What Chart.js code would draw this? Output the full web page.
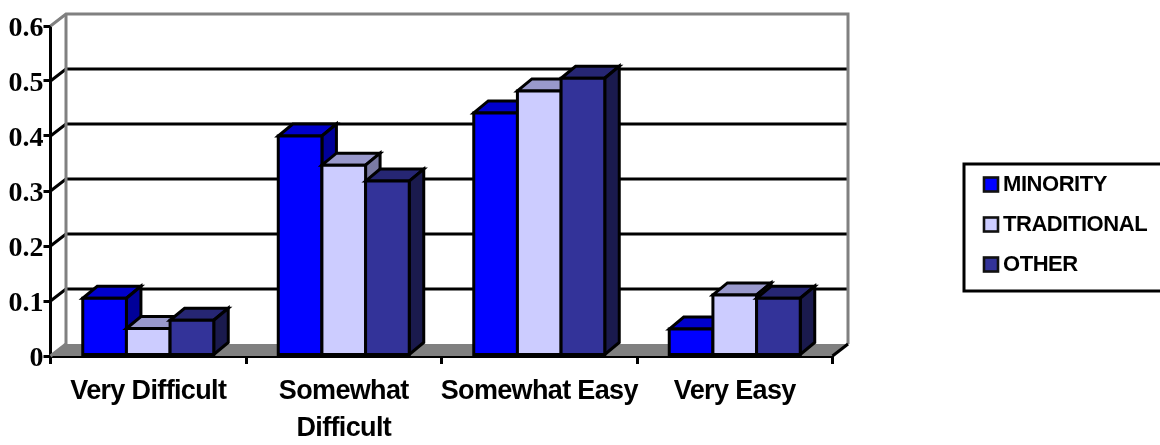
<!DOCTYPE html>
<html>
<head>
<meta charset="utf-8">
<style>
  html, body { margin: 0; padding: 0; background: #fff; }
  canvas { display: block; }
</style>
<script src="https://cdn.jsdelivr.net/npm/chart.js@4/dist/chart.umd.min.js"></script>
</head>
<body>
<canvas id="chart" width="1160" height="445"></canvas>
<script>
const categories = ["Very Difficult", ["Somewhat", "Difficult"], "Somewhat Easy", "Very Easy"];
const minority = [0.105, 0.40, 0.442, 0.049];
const traditional = [0.05, 0.347, 0.482, 0.111];
const other = [0.065, 0.318, 0.505, 0.105];
const axisTicks = [0, 0.1, 0.2, 0.3, 0.4, 0.5, 0.6];

const seriesNames = ["MINORITY", "TRADITIONAL", "OTHER"];
const faceColors = ["#0000ff", "#ccccff", "#333399"];
const topColors = ["#0000cc", "#9999cc", "#262673"];
const sideColors = ["#000099", "#7a7aa3", "#1a1a4d"];

// Perspective offset of the back of the plot box and of each bar
const WALL_DX = 15.5, WALL_DY = 12;
const BAR_DX = 14.5, BAR_DY = 12;
const LINE = 3;

function poly(ctx, pts, fill, stroke, lw) {
  ctx.beginPath();
  pts.forEach((p, i) => i ? ctx.lineTo(p[0], p[1]) : ctx.moveTo(p[0], p[1]));
  ctx.closePath();
  if (fill) { ctx.fillStyle = fill; ctx.fill(); }
  if (stroke) { ctx.strokeStyle = stroke; ctx.lineWidth = lw; ctx.lineJoin = "miter"; ctx.stroke(); }
}

function segments(ctx, pts, color, lw) {
  ctx.beginPath();
  pts.forEach((p, i) => i ? ctx.lineTo(p[0], p[1]) : ctx.moveTo(p[0], p[1]));
  ctx.strokeStyle = color; ctx.lineWidth = lw; ctx.lineCap = "butt"; ctx.stroke();
}

// Back walls, floor and grid lines of the 3D plot box
const plotBox = {
  id: "plotBox",
  beforeDatasetsDraw(chart) {
    const { ctx, chartArea: a, scales: { y } } = chart;
    const bottom = y.getPixelForValue(0), top = y.getPixelForValue(0.6);
    ctx.save();
    poly(ctx, [[a.left, bottom], [a.left + WALL_DX, bottom - WALL_DY],
               [a.right + WALL_DX, bottom - WALL_DY], [a.right, bottom]], "#808080");
    axisTicks.forEach(v => {
      if (v === 0 || v === 0.6) return;
      const py = y.getPixelForValue(v);
      segments(ctx, [[a.left, py], [a.left + WALL_DX, py - WALL_DY], [a.right + WALL_DX, py - WALL_DY]], "#000", LINE);
    });
    segments(ctx, [[a.left, top], [a.left + WALL_DX, top - WALL_DY], [a.right + WALL_DX, top - WALL_DY],
                   [a.right + WALL_DX, bottom - WALL_DY]], "#808080", LINE);
    segments(ctx, [[a.left + WALL_DX, top - WALL_DY], [a.left + WALL_DX, bottom - WALL_DY]], "#808080", LINE);
    segments(ctx, [[a.left, bottom], [a.left + WALL_DX, bottom - WALL_DY]], "#808080", LINE);
    segments(ctx, [[a.right, bottom], [a.right + WALL_DX, bottom - WALL_DY]], "#000", LINE);
    ctx.restore();
  }
};

// Draws each bar with its top and side faces, left series first so later ones overlap.
// Outlines are centred on the edges so touching bars share one line.
const extrudedBars = {
  id: "extrudedBars",
  beforeDatasetsDraw(chart) {
    const ctx = chart.ctx;
    ctx.save();
    chart.data.datasets.forEach((ds, i) => {
      chart.getDatasetMeta(i).data.forEach(bar => {
        const half = bar.width / 2;
        const l = bar.x - half, r = bar.x + half, t = bar.y, b = bar.base;
        poly(ctx, [[l, t], [l + BAR_DX, t - BAR_DY], [r + BAR_DX, t - BAR_DY], [r, t]], topColors[i], "#000", LINE);
        poly(ctx, [[r, t], [r + BAR_DX, t - BAR_DY], [r + BAR_DX, b - BAR_DY], [r, b]], sideColors[i], "#000", LINE);
        bar.draw(ctx, chart.chartArea);
        poly(ctx, [[l, t], [r, t], [r, b], [l, b]], null, "#000", LINE);
      });
    });
    ctx.restore();
    return false;
  }
};

// Boxed key on the right, running off the page edge
const sideKey = {
  id: "sideKey",
  afterDraw(chart) {
    const ctx = chart.ctx;
    ctx.save();
    ctx.strokeStyle = "#000";
    ctx.lineWidth = LINE;
    ctx.strokeRect(964, 164, 200, 127);
    const rows = [184.5, 224.5, 264.5];
    ctx.font = 'bold 22px "Liberation Sans"';
    ctx.letterSpacing = "-0.45px";
    ctx.textBaseline = "middle";
    seriesNames.forEach((name, i) => {
      ctx.fillStyle = faceColors[i];
      ctx.fillRect(984, rows[i] - 7, 14, 14);
      ctx.strokeStyle = "#111";
      ctx.lineWidth = 2.6;
      ctx.strokeRect(984, rows[i] - 7, 14, 14);
      ctx.fillStyle = "#000";
      ctx.fillText(name, 1003, rows[i] + 0.5);
    });
    ctx.restore();
  }
};

// Per-axis tweaks to how the tick labels are painted
const labelPainting = {
  id: "labelPainting",
  afterLayout(chart) {
    const { x, y } = chart.scales;
    if (x._wrapped) return;
    x._wrapped = true;
    const drawX = x.drawLabels, drawY = y.drawLabels;
    x.drawLabels = function (area) {
      this.ctx.letterSpacing = "-0.65px";
      drawX.call(this, area);
      this.ctx.letterSpacing = "0px";
    };
    y.drawLabels = function (area) {
      this.ctx.save();
      this.ctx.translate(0, 2.5);
      drawY.call(this, area);
      this.ctx.restore();
    };
  }
};

function series(label, values, i) {
  return { label, data: values, backgroundColor: faceColors[i], borderWidth: 0,
           categoryPercentage: 0.67, barPercentage: 1 };
}

new Chart(document.getElementById("chart"), {
  type: "bar",
  data: {
    labels: categories,
    datasets: [series(seriesNames[0], minority, 0), series(seriesNames[1], traditional, 1), series(seriesNames[2], other, 2)]
  },
  options: {
    responsive: false,
    animation: false,
    layout: { padding: { top: 26, right: 327.5, left: 0, bottom: 0 } },
    plugins: { legend: { display: false }, tooltip: { enabled: false } },
    scales: {
      x: {
        afterFit(s) { s.height = 89; },
        grid: { display: true, drawOnChartArea: false, color: "#000", lineWidth: LINE, tickLength: 8 },
        border: { color: "#000", width: LINE },
        ticks: {
          autoSkip: false, maxRotation: 0, minRotation: 0, padding: 9, color: "#000",
          font: { family: '"Liberation Sans"', weight: "bold", size: 27, lineHeight: 1.37 }
        }
      },
      y: {
        min: 0, max: 0.6,
        afterFit(s) { s.width = 50.5; },
        afterBuildTicks(s) { s.ticks = axisTicks.map(value => ({ value })); },
        grid: { display: true, drawOnChartArea: false, color: "#000", lineWidth: LINE, tickLength: 7 },
        border: { color: "#000", width: LINE },
        ticks: {
          padding: 0, color: "#000",
          callback: v => String(v),
          font: { family: '"Liberation Serif"', weight: "bold", size: 28 }
        }
      }
    }
  },
  plugins: [plotBox, extrudedBars, sideKey, labelPainting]
});
</script>
</body>
</html>
